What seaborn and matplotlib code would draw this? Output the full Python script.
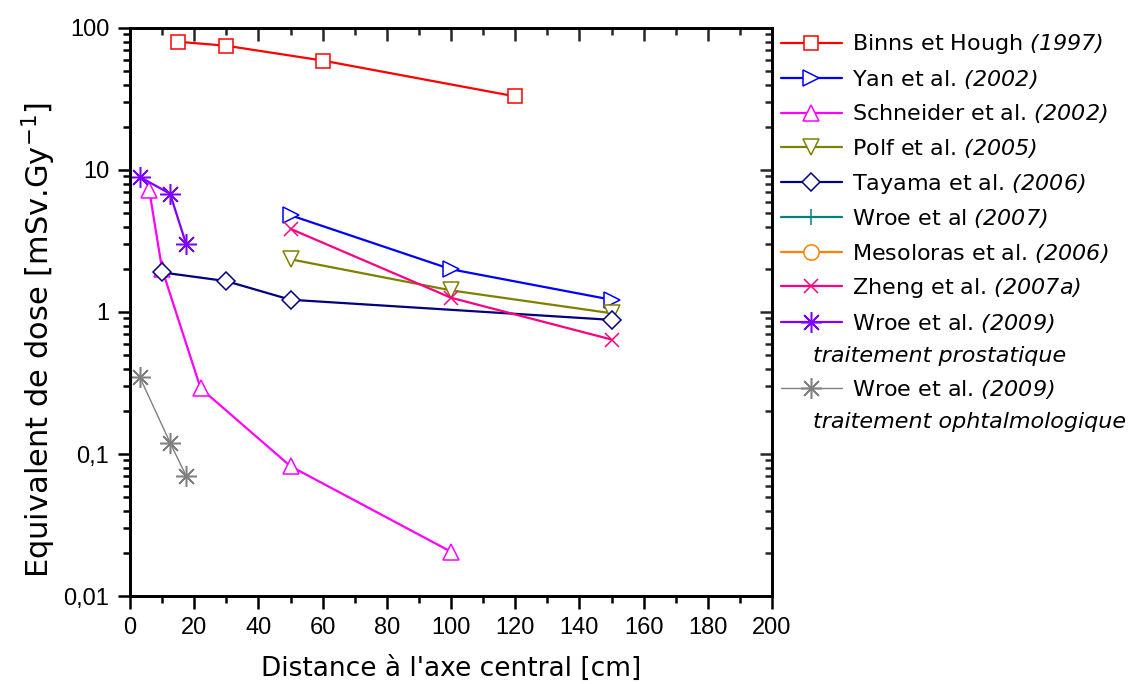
import matplotlib
matplotlib.use("Agg")
import matplotlib.pyplot as plt
import seaborn as sns
import pandas as pd
import numpy as np
from matplotlib.ticker import FixedLocator, LogLocator, NullFormatter, MultipleLocator, FixedFormatter

# ---- data ----
binns_x = [15, 30, 60, 120]
binns_y = [80, 75, 59, 33]
yan_x = [50, 100, 150]
yan_y = [4.8, 2.0, 1.22]
schneider_x = [6, 10, 22, 50, 100]
schneider_y = [7.2, 2.0, 0.29, 0.082, 0.0205]
polf_x = [50, 100, 150]
polf_y = [2.35, 1.42, 0.98]
tayama_x = [10, 30, 50, 150]
tayama_y = [1.9, 1.65, 1.22, 0.88]
wroe07_x = []
wroe07_y = []
mesoloras_x = []
mesoloras_y = []
zheng_x = [50, 100, 150]
zheng_y = [3.85, 1.26, 0.64]
wroe09p_x = [3, 12.5, 17.5]
wroe09p_y = [8.95, 6.8, 3.0]
wroe09o_x = [3, 12.5, 17.5]
wroe09o_y = [0.35, 0.12, 0.07]

x_ticks = [0, 20, 40, 60, 80, 100, 120, 140, 160, 180, 200]
y_ticks = [0.01, 0.1, 1, 10, 100]
y_ticklabels = ["0,01", "0,1", "1", "10", "100"]

series = [
    ("Binns et Hough", "(1997)", binns_x, binns_y, "#FF0000", "s", 10, ""),
    ("Yan et al.", "(2002)", yan_x, yan_y, "#0000FF", ">", 12, ""),
    ("Schneider et al.", "(2002)", schneider_x, schneider_y, "#FF00FF", "^", 12, ""),
    ("Polf et al.", "(2005)", polf_x, polf_y, "#808000", "v", 12, ""),
    ("Tayama et al.", "(2006)", tayama_x, tayama_y, "#000080", "D", 9, ""),
    ("Wroe et al", "(2007)", wroe07_x, wroe07_y, "#008080", "+", 11, ""),
    ("Mesoloras et al.", "(2006)", mesoloras_x, mesoloras_y, "#FF8000", "o", 11, ""),
    ("Zheng et al.", "(2007a)", zheng_x, zheng_y, "#FF0080", "x", 10, ""),
    ("Wroe et al.", "(2009)", wroe09p_x, wroe09p_y, "#8000FF", (8, 2, 0), 15, "traitement prostatique"),
    ("Wroe et al.", "(2009)", wroe09o_x, wroe09o_y, "#808080", (8, 2, 0), 15, "traitement ophtalmologique"),
]

sns.set_theme(style="white")
plt.rcParams["font.family"] = ["DejaVu Sans"]
plt.rcParams["mathtext.fontset"] = "custom"
plt.rcParams["mathtext.rm"] = "DejaVu Sans"
plt.rcParams["mathtext.sf"] = "DejaVu Sans:italic"

fig = plt.figure(figsize=(11.39, 6.84), dpi=100)
ax = fig.add_axes([130/1139, 1-596/684, (772-130)/1139, (596-28)/684])

handles = []
labels = []
for name, year, xs, ys, col, mk, ms, sub in series:
    lw = 1.0 if col == "#808080" else 1.6
    if len(xs) > 0:
        df = pd.DataFrame({"x": xs, "y": ys})
        sns.lineplot(data=df, x="x", y="y", ax=ax, color=col, marker=mk, markersize=ms,
                     markerfacecolor="white", markeredgecolor=col, markeredgewidth=1.1,
                     linewidth=lw, estimator=None, sort=False, zorder=3)
    h, = ax.plot([], [], color=col, marker=mk, markersize=ms, markerfacecolor="white",
                 markeredgecolor=col, markeredgewidth=1.1, linewidth=lw)
    handles.append(h)
    labels.append(name + r" $\mathsf{" + year + "}$")
    if sub:
        blank, = ax.plot([], [], color="none")
        handles.append(blank)
        labels.append(" ")

ax.set_yscale("log")
ax.set_xlim(0, 200)
ax.set_ylim(0.01, 100)
ax.xaxis.set_major_locator(FixedLocator(x_ticks))
ax.xaxis.set_minor_locator(MultipleLocator(10))
ax.yaxis.set_major_locator(FixedLocator(y_ticks))
ax.yaxis.set_major_formatter(FixedFormatter(y_ticklabels))
ax.yaxis.set_minor_locator(LogLocator(base=10, subs=np.arange(2, 10)))
ax.yaxis.set_minor_formatter(NullFormatter())

for s in ax.spines.values():
    s.set_visible(True)
    s.set_linewidth(1.8)
    s.set_color("black")

ax.tick_params(which="major", direction="out", length=9, width=1.8, color="black", pad=6,
               labelsize=17, labelfontfamily="Liberation Sans", labelcolor="black")
ax.tick_params(which="minor", direction="out", length=5, width=1.8, color="black")
ax.tick_params(axis="both", which="both", bottom=True, left=True)

# mirrored inward ticks on top / right
ax_top = ax.twiny()
ax_top.set_xlim(ax.get_xlim())
ax_top.xaxis.set_major_locator(FixedLocator(x_ticks))
ax_top.xaxis.set_minor_locator(MultipleLocator(10))
ax_top.tick_params(axis="x", which="major", direction="in", length=9, width=1.8, labeltop=False, top=True, bottom=False)
ax_top.tick_params(axis="x", which="minor", direction="in", length=5, width=1.8, top=True, bottom=False)
ax_right = ax.twinx()
ax_right.set_yscale("log")
ax_right.set_ylim(ax.get_ylim())
ax_right.yaxis.set_major_locator(FixedLocator(y_ticks))
ax_right.yaxis.set_minor_locator(LogLocator(base=10, subs=np.arange(2, 10)))
ax_right.yaxis.set_minor_formatter(NullFormatter())
ax_right.tick_params(axis="y", which="major", direction="in", length=9, width=1.8, labelright=False, right=True, left=False)
ax_right.tick_params(axis="y", which="minor", direction="in", length=5, width=1.8, right=True, left=False)
for a in (ax_top, ax_right):
    for s in a.spines.values():
        s.set_linewidth(1.8)
        s.set_color("black")

ax.set_xlabel("Distance à l'axe central [cm]", fontsize=19, labelpad=12, color="black")
ax.set_ylabel(r"Equivalent de dose [mSv.Gy$^{-1}$]", fontsize=22, color="black")
ax.yaxis.set_label_coords(-0.112, 0.45)

leg = ax.legend(handles, labels, loc="upper left", bbox_to_anchor=(1.0, 1.008),
                frameon=False, fontsize=16, handlelength=2.75, handletextpad=0.45,
                labelspacing=0.52, borderaxespad=0.0)
for t in leg.get_texts():
    t.set_color("black")

fig.canvas.draw()
texts = leg.get_texts()
subs = [s[7] for s in series if s[7]]
inv = fig.transFigure.inverted()
k = 0
for i, lbl in enumerate(labels):
    if lbl == " ":
        bb = texts[i].get_window_extent()
        x0, y0 = inv.transform((813, (bb.y0 + bb.y1) / 2))
        fig.text(x0, y0, subs[k], fontsize=16, style="italic", va="center", ha="left", color="black")
        k += 1

fig.savefig("out.png", dpi=100)
